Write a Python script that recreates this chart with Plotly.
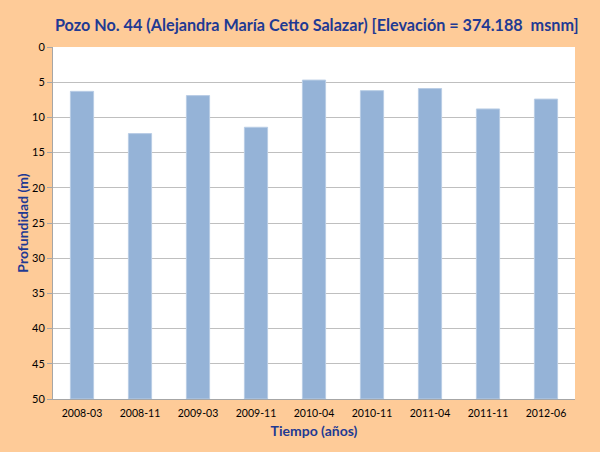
import plotly.graph_objects as go

fechas = ["2008-03", "2008-11", "2009-03", "2009-11", "2010-04", "2010-11", "2011-04", "2011-11", "2012-06"]
profundidad = [6.3, 12.3, 6.9, 11.4, 4.7, 6.2, 5.9, 8.8, 7.4]
y_max = 50
y_ticks = [0, 5, 10, 15, 20, 25, 30, 35, 40, 45, 50]

fig = go.Figure(go.Bar(
    x=fechas,
    y=[p - y_max for p in profundidad],
    base=y_max,
    marker=dict(color="#95B3D7", line=dict(color="#B9CDE5", width=1)),
    hovertext=[str(p) for p in profundidad],
))

fig.update_layout(
    width=600, height=452,
    paper_bgcolor="#FECB98",
    plot_bgcolor="#FFFFFF",
    margin=dict(l=53, r=25, t=47, b=53, autoexpand=False),
    bargap=0.6,
    showlegend=False,
    font=dict(family="Lato", color="#000000"),
    title=dict(
        text="<b>Pozo No. 44 (Alejandra María Cetto Salazar) [Elevación = 374.188  msnm]</b>",
        x=0.528, xanchor="center", y=0.945, yanchor="middle",
        font=dict(family="Lato", size=16.2, color="#1F3A93"),
    ),
    xaxis=dict(
        type="category",
        automargin=False,
        title=dict(text="<b>Tiempo (años)</b>", font=dict(family="Lato", size=14, color="#1F3A93"), standoff=8),
        tickfont=dict(size=10.5, color="#000000"),
        showline=True, linecolor="#A6A6A6", linewidth=1,
        ticks="outside", ticklen=4, tickcolor="rgba(0,0,0,0)", showgrid=False,
    ),
    yaxis=dict(
        automargin=False,
        title=dict(text="<b>Profundidad (m)</b>", font=dict(family="Lato", size=14, color="#1F3A93"), standoff=0),
        range=[y_max, 0],
        tickvals=y_ticks,
        tickfont=dict(size=11, color="#000000"),
        showline=True, linecolor="#A6A6A6", linewidth=1,
        ticks="outside", ticklen=5, tickcolor="#A6A6A6",
        showgrid=True, gridcolor="#BFBFBF", gridwidth=1.3,
        zeroline=False,
    ),
)

fig.write_html(
    "out.html",
    config={"displayModeBar": False},
    post_script="document.body.style.margin='0';document.body.style.padding='0';",
)
